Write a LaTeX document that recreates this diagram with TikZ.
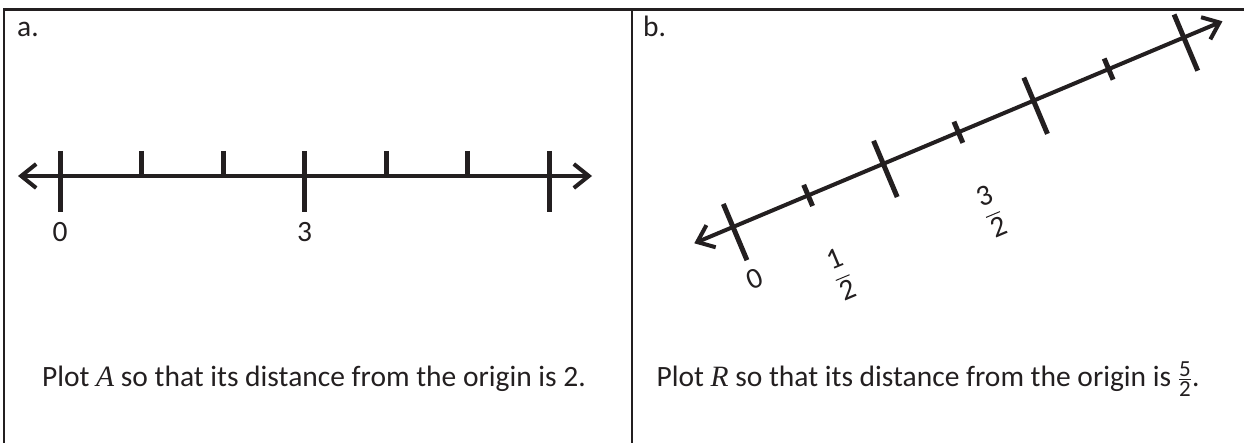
\documentclass[tikz,border=0pt]{standalone}
\usepackage{amsmath}
\usepackage{fontspec}
\setmainfont{Carlito}
\newfontfamily\varfont{Liberation Serif}
\newcommand{\pointname}[1]{{\varfont\itshape #1}}
\newcommand{\smalldigit}[1]{\text{\fontsize{23}{23}\selectfont #1}}
\usepackage{tikz}
\usetikzlibrary{arrows.meta}
\definecolor{ink}{HTML}{231F20}

\begin{document}
\begin{tikzpicture}[x=1pt,y=-1pt,
  frame/.style={ink,line width=2.6pt},
  numline/.style={ink,line width=4pt,
    {Straight Barb[length=15pt,width=24pt]}-{Straight Barb[length=15pt,width=24pt]}},
  bigtick/.style={ink,line width=5pt},
  smalltick/.style={ink,line width=5pt},
  lbl/.style={font=\fontsize{29.5}{34}\selectfont,text=ink,inner sep=0pt}]
  \useasboundingbox (0,0) rectangle (1244,443);
  % frame of the two panels
  \draw[frame] (4,443) -- (4,9.5) -- (1244,9.5);
  \draw[frame] (632,9.5) -- (632,443);
  \node[lbl,anchor=base west] (tagA) at (17,37) {a.};
  \node[lbl,anchor=base west] (tagB) at (643,37) {b.};
  % a. horizontal number line
  \coordinate (aL) at (18,176);
  \coordinate (aR) at (592,176);
  \draw[numline] (aL) -- (aR);
  \draw[bigtick] (60,151) -- (60,212);
  \draw[smalltick] (141.5,151) -- (141.5,176);
  \draw[smalltick] (223,151) -- (223,176);
  \draw[bigtick] (304.5,151) -- (304.5,212);
  \draw[smalltick] (386,151) -- (386,176);
  \draw[smalltick] (467.5,151) -- (467.5,176);
  \draw[bigtick] (549,151) -- (549,212);
  \node[lbl] (a0) at (60,232) {0};
  \node[lbl] (a3) at (304.5,232) {3};
  \node[lbl,anchor=base] (taskA) at (314,386) {Plot \pointname{A} so that its distance from the origin is 2.};
  % b. tilted number line
  \begin{scope}[shift={(733,227)},rotate=22.8,transform shape]
    \coordinate (bL) at (-42,0);
    \coordinate (bR) at (531,0);
    \draw[numline] (bL) -- (bR);
    \draw[bigtick] (0,-25) -- (0,36);
    \draw[smalltick] (81.5,-11.5) -- (81.5,11.5);
    \draw[bigtick] (163,-25) -- (163,36);
    \draw[smalltick] (244.5,-11.5) -- (244.5,11.5);
    \draw[bigtick] (326,-25) -- (326,36);
    \draw[smalltick] (407.5,-11.5) -- (407.5,11.5);
    \draw[bigtick] (489,-25) -- (489,36);
    \node[lbl] (b0) at (0,56) {0};
    \node[lbl] (bhalf) at (81.5,86) {$\dfrac{\text{1}}{\text{2}}$};
    \node[lbl] (bthreehalf) at (244.5,86) {$\dfrac{\text{3}}{\text{2}}$};
  \end{scope}
  \node[lbl,anchor=base] (taskB) at (928,386) {Plot \pointname{R} so that its distance from the origin is $\tfrac{\smalldigit{5}}{\smalldigit{2}}$.};
\end{tikzpicture}
\end{document}
